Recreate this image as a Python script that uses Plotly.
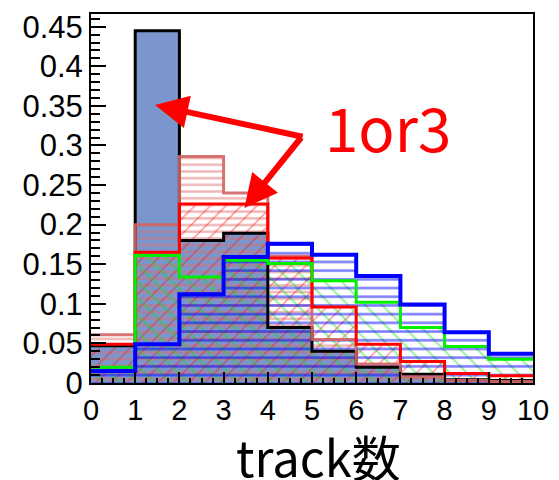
import plotly.graph_objects as go

# ---- data (bin contents, bins of width 1 from 0 to 10) ----
bin_edges = [0, 1, 2, 3, 4, 5, 6, 7, 8, 9, 10]
h_black = [0.047, 0.445, 0.180, 0.189, 0.070, 0.040, 0.020, 0.011, 0.004, 0.003]
h_pink = [0.061, 0.200, 0.286, 0.240, 0.160, 0.055, 0.024, 0.008, 0.003, 0.002]
h_red = [0.049, 0.165, 0.226, 0.226, 0.158, 0.096, 0.049, 0.027, 0.012, 0.009]
h_green = [0.020, 0.161, 0.134, 0.155, 0.151, 0.129, 0.102, 0.070, 0.046, 0.030]
h_blue = [0.015, 0.049, 0.112, 0.159, 0.176, 0.162, 0.135, 0.099, 0.064, 0.037]

y_tickvals = [0, 0.05, 0.1, 0.15, 0.2, 0.25, 0.3, 0.35, 0.4, 0.45]
y_ticktext = ["0", "0.05", "0.1", "0.15", "0.2", "0.25", "0.3", "0.35", "0.4", "0.45"]
x_tickvals = [0, 1, 2, 3, 4, 5, 6, 7, 8, 9, 10]
x_ticktext = ["0", "1", "2", "3", "4", "5", "6", "7", "8", "9", "10"]

centers = [(a + b) / 2 for a, b in zip(bin_edges[:-1], bin_edges[1:])]

fig = go.Figure()

series = [
    # values, line colour, line width, fill spec
    (h_black, "black", 3, dict(color="#7b96cc")),
    (h_pink, "rgba(212,100,100,0.9)", 3,
     dict(color="rgba(0,0,0,0)", pattern=dict(shape="-", fgcolor="rgb(222,108,108)",
                                               bgcolor="rgba(0,0,0,0)", size=6.7, solidity=0.36,
                                               fillmode="overlay"))),
    (h_red, "#ff0000", 3,
     dict(color="rgba(0,0,0,0)", pattern=dict(shape="/", fgcolor="#ff1010",
                                               bgcolor="rgba(0,0,0,0)", size=11, solidity=0.12,
                                               fillmode="overlay"))),
    (h_green, "#00f000", 3,
     dict(color="rgba(0,0,0,0)", pattern=dict(shape="\\", fgcolor="#10e010",
                                               bgcolor="rgba(0,0,0,0)", size=12, solidity=0.14,
                                               fillmode="overlay"))),
    (h_blue, "#0000ff", 4,
     dict(color="rgba(0,0,0,0)", pattern=dict(shape="-", fgcolor="#0000ff",
                                               bgcolor="rgba(0,0,0,0)", size=8.7, solidity=0.3,
                                               fillmode="overlay"))),
]

for vals, lc, lw, mk in series:
    fig.add_trace(go.Bar(x=centers, y=vals, width=1, marker=dict(line=dict(width=0), **mk),
                         showlegend=False, hoverinfo="skip"))

for vals, lc, lw, mk in series:
    fig.add_trace(go.Scatter(x=bin_edges, y=list(vals) + [vals[-1]], mode="lines",
                             line=dict(color=lc, width=lw, shape="hv"),
                             showlegend=False, hoverinfo="skip"))

y_font = dict(family="Liberation Sans, Arial, sans-serif", size=31, color="black")
x_font = dict(family="Liberation Sans, Arial, sans-serif", size=29, color="black")

fig.update_layout(
    width=559, height=480,
    margin=dict(l=91, r=19, t=10, b=97),
    paper_bgcolor="white", plot_bgcolor="white",
    barmode="overlay", bargap=0,
    xaxis=dict(range=[0, 10], tickmode="array", tickvals=x_tickvals, ticktext=x_ticktext,
               ticks="inside", ticklen=11, tickwidth=2, tickcolor="black",
               minor=dict(tickmode="linear", tick0=0, dtick=0.25, ticks="inside",
                          ticklen=5, tickwidth=2, tickcolor="black"),
               showline=True, linecolor="black", linewidth=2, mirror=True,
               showgrid=False, zeroline=False, tickfont=x_font),
    yaxis=dict(range=[0, 0.466], tickmode="array", tickvals=y_tickvals, ticktext=y_ticktext,
               ticks="inside", ticklen=15, tickwidth=2, tickcolor="black",
               minor=dict(tickmode="linear", tick0=0, dtick=0.01, ticks="inside",
                          ticklen=9, tickwidth=2, tickcolor="black"),
               showline=True, linecolor="black", linewidth=2, mirror=True,
               showgrid=False, zeroline=False, tickfont=y_font),
)

# x-axis title
fig.add_annotation(text="track数", xref="paper", yref="paper", x=0.514, y=0,
                   yanchor="middle", yshift=-72, showarrow=False,
                   font=dict(family="Noto Sans CJK JP, sans-serif", size=49, color="black"))

# "1or3" label and arrows
fig.add_annotation(text="1or3", xref="x", yref="y", x=6.72, y=0.325, showarrow=False,
                   font=dict(family="Noto Sans CJK JP, sans-serif", size=60, color="#ff0000"))
fig.add_annotation(text="", xref="x", yref="y", x=1.45, y=0.351, ax=149, ay=32,
                   showarrow=True, arrowhead=2, arrowsize=1.1, arrowwidth=6, arrowcolor="#ff0000",
                   standoff=0)
fig.add_annotation(text="", xref="x", yref="y", x=3.47, y=0.221, ax=58, ay=-72,
                   showarrow=True, arrowhead=2, arrowsize=1.1, arrowwidth=6, arrowcolor="#ff0000",
                   standoff=0)

fig.write_html("out.html")
